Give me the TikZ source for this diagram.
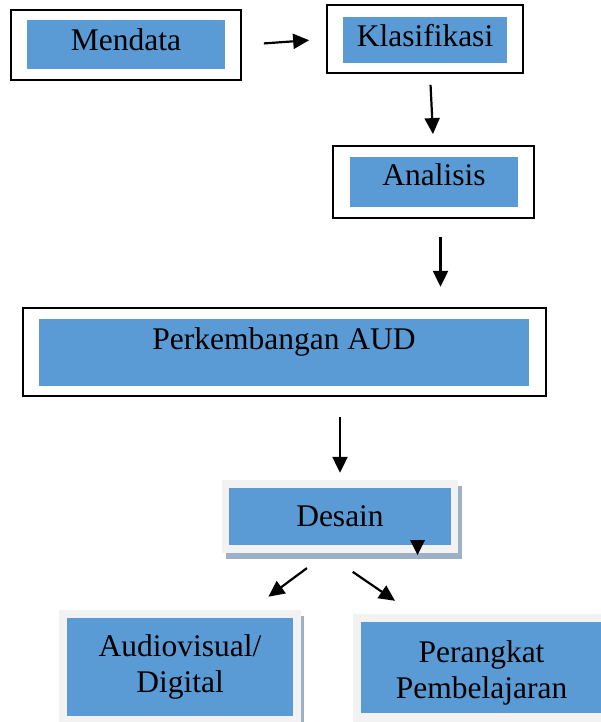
\documentclass[tikz,border=0pt]{standalone}
\usepackage{fontspec}
\setmainfont{Liberation Serif}
\usetikzlibrary{arrows.meta,shadows}
\definecolor{biru}{RGB}{91,155,213}
\definecolor{abu}{RGB}{242,242,242}
\definecolor{bayangan}{RGB}{158,176,198}

\begin{document}
\begin{tikzpicture}[x=1pt,y=-1pt,
  bingkai/.style={draw=black,line width=1.8pt,inner sep=0pt},
  isi/.style={fill=biru,inner sep=0pt,font=\fontsize{31.5}{36}\selectfont},
  panel/.style={fill=abu,inner sep=0pt,drop shadow={shadow xshift=3.5pt,shadow yshift=-6pt,fill=bayangan,opacity=1}},
  panah/.style={line width=2.2pt,-{Triangle[length=16pt,width=15pt]}}]
\useasboundingbox (0,0) rectangle (600,722);

% Mendata - black frame, blue box inside
\node[bingkai,minimum width=230pt,minimum height=70pt] (mendata) at (126,45) {};
\node[isi,minimum width=198pt,minimum height=49pt,text depth=10.5pt] (mendata-isi) at (126,44.5) {Mendata};

% Klasifikasi
\node[bingkai,minimum width=196pt,minimum height=68pt] (klas) at (425,39) {};
\node[isi,minimum width=164pt,minimum height=46pt,text depth=10pt] (klas-isi) at (425,40) {Klasifikasi};

% Analisis
\node[bingkai,minimum width=201pt,minimum height=72pt] (ana) at (433.5,182) {};
\node[isi,minimum width=168pt,minimum height=50pt,text depth=15.5pt] (ana-isi) at (434,182) {Analisis};

% Perkembangan AUD - wide box, text sits high
\node[bingkai,minimum width=523pt,minimum height=88pt] (perk) at (284.2,351.7) {};
\node[isi,minimum width=490pt,minimum height=66.7pt,text depth=28pt] (perk-isi) at (284,352.3) {Perkembangan AUD};

% Desain - grey panel with shadow
\node[panel,minimum width=236pt,minimum height=73pt] (desain) at (340,516.5) {};
\node[isi,minimum width=222pt,minimum height=57pt] (desain-isi) at (340,516.5) {Desain};
\fill (410,540) -- (425,540) -- (417.5,555) -- cycle;

% Audiovisual / Digital
\node[panel,minimum width=241.5pt,minimum height=116pt] (audio) at (179.75,668) {};
\node[isi,align=center,minimum width=226pt,minimum height=98pt] (audio-isi) at (180,667) {Audiovisual/\\Digital};

% Perangkat Pembelajaran
\node[panel,minimum width=257pt,minimum height=112pt] (perang) at (481.5,670) {};
\node[isi,align=center,minimum width=241pt,minimum height=91pt] (perang-isi) at (481.5,667.5) {\rule{0pt}{32pt}Perangkat\\Pembelajaran};

% arrows
\draw[panah,shorten <=22pt,shorten >=17pt] (mendata.east) -- (klas.west);
\draw[panah,shorten <=11pt,shorten >=11pt] ([xshift=5pt]klas.south) -- (ana.north);
\draw[panah,shorten <=18pt,shorten >=20pt] ([xshift=7pt]ana.south) -- ([xshift=7pt]ana.south |- perk.north);
\draw[panah,shorten <=20pt,shorten >=7pt] (perk.south -| desain.north) -- (desain.north);
\draw[panah,shorten <=25pt,shorten >=22pt] ([xshift=-13pt]desain.south) -- ([xshift=71pt]audio.north);
\draw[panah,shorten <=33pt,shorten >=23pt] ([xshift=-14.5pt]desain.south) -- ([xshift=-67.5pt]perang.north);

\end{tikzpicture}
\end{document}
